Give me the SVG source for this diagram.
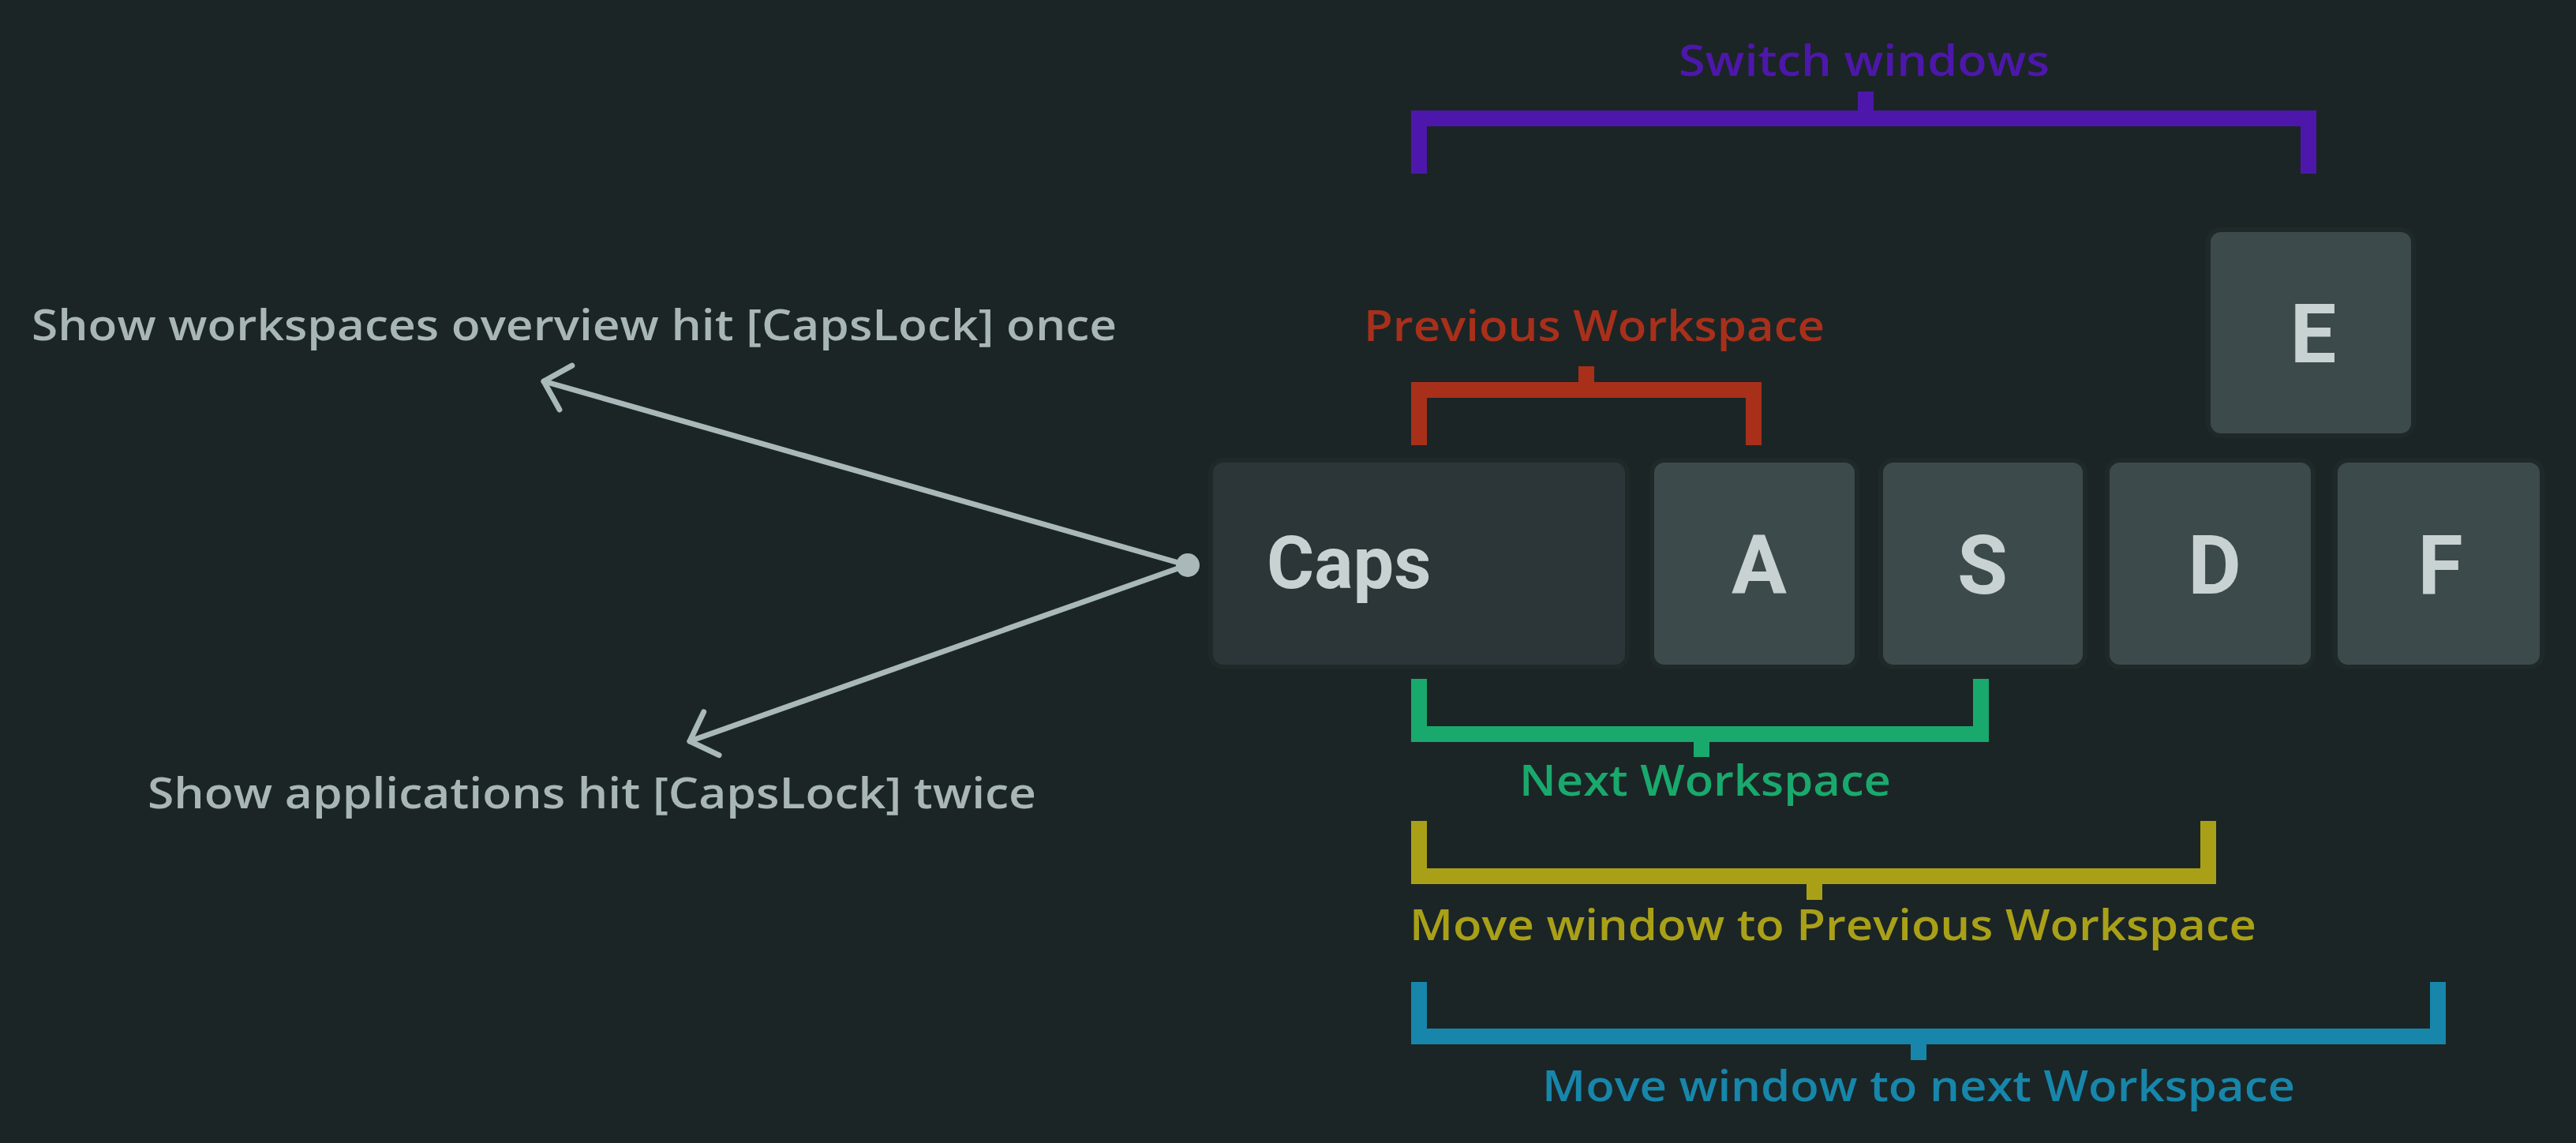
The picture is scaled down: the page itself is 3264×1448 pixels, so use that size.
<svg xmlns="http://www.w3.org/2000/svg" width="3264" height="1448" viewBox="0 0 3264 1448">
<style>
.lbl{font-family:"Open Sans","Noto Sans",sans-serif;font-weight:600;font-size:55px}
.grey{fill:#a9b6b6}
.key{fill:#3d4a4b;stroke:#1f292a;stroke-width:6}
.caps{fill:#2c3537;stroke:#1f292a;stroke-width:6}
.kt{font-family:Roboto,"Liberation Sans",sans-serif;font-weight:700;font-size:104px;fill:#c8d2d2;text-anchor:middle}
.br{fill:none;stroke-width:20;stroke-linejoin:miter;stroke-linecap:butt}
.arr{fill:none;stroke:#a9b8b8;stroke-width:7;stroke-linecap:round}
</style>
<defs>
<marker id="head" markerUnits="userSpaceOnUse" markerWidth="80" markerHeight="80" viewBox="-40 -40 80 80" refX="0" refY="0" orient="auto">
<path d="M-29,-29 L0,0 L-29,29" fill="none" stroke="#a9b8b8" stroke-width="7" stroke-linecap="round" stroke-linejoin="round"/>
</marker>
</defs>
<rect x="0" y="0" width="3264" height="1448" fill="#1b2526"/>

<g id="keys">
<g id="key-caps"><rect class="caps" x="1534" y="583" width="528" height="262" rx="16"/><text class="kt" x="1605" y="745" style="text-anchor:start;font-size:92px">Caps</text></g>
<g id="key-a"><rect class="key" x="2093" y="583" width="260" height="262" rx="16"/><text class="kt" x="2229" y="752">A</text></g>
<g id="key-s"><rect class="key" x="2383" y="583" width="259" height="262" rx="16"/><text class="kt" x="2512" y="752">S</text></g>
<g id="key-d"><rect class="key" x="2670" y="583" width="261" height="262" rx="16"/><text class="kt" x="2806" y="752">D</text></g>
<g id="key-f"><rect class="key" x="2959" y="583" width="262" height="262" rx="16"/><text class="kt" x="3092" y="752">F</text></g>
<g id="key-e"><rect class="key" x="2798" y="291" width="260" height="261" rx="16"/><text class="kt" x="2931" y="459">E</text></g>
</g>

<g id="switch-windows">
<path class="br" stroke="#4e17ab" d="M1798,220 V150 H2925 V220 M2364,116 V150"/>
<text class="lbl" x="2127" y="96" fill="#4e17ab" textLength="470" lengthAdjust="spacingAndGlyphs">Switch windows</text>
</g>
<g id="previous-workspace">
<path class="br" stroke="#a8301b" d="M1798,564 V494 H2222 V564 M2010,464 V494"/>
<text class="lbl" x="1728" y="432" fill="#a8301b" textLength="584" lengthAdjust="spacingAndGlyphs">Previous Workspace</text>
</g>
<g id="next-workspace">
<path class="br" stroke="#19a96c" d="M1798,860 V930 H2510 V860 M2156,930 V959"/>
<text class="lbl" x="1925" y="1008" fill="#19a96c" textLength="471" lengthAdjust="spacingAndGlyphs">Next Workspace</text>
</g>
<g id="move-prev">
<path class="br" stroke="#a9a018" d="M1798,1040 V1110 H2798 V1040 M2299,1110 V1140"/>
<text class="lbl" x="1786" y="1191" fill="#a9a018" textLength="1073" lengthAdjust="spacingAndGlyphs">Move window to Previous Workspace</text>
</g>
<g id="move-next">
<path class="br" stroke="#1786aa" d="M1798,1244 V1313 H3089 V1244 M2431,1313 V1343"/>
<text class="lbl" x="1954" y="1395" fill="#1786aa" textLength="954" lengthAdjust="spacingAndGlyphs">Move window to next Workspace</text>
</g>

<g id="overview-label"><text class="lbl grey" x="40" y="431" textLength="1375" lengthAdjust="spacingAndGlyphs">Show workspaces overview hit [CapsLock] once</text></g>
<g id="applications-label"><text class="lbl grey" x="187" y="1024" textLength="1126" lengthAdjust="spacingAndGlyphs">Show applications hit [CapsLock] twice</text></g>

<g id="connectors">
<line class="arr" x1="1504" y1="716" x2="689" y2="483" marker-end="url(#head)"/>
<line class="arr" x1="1504" y1="716" x2="874" y2="939" marker-end="url(#head)"/>
<circle cx="1505" cy="716" r="15" fill="#a9b8b8"/>
</g>
</svg>
